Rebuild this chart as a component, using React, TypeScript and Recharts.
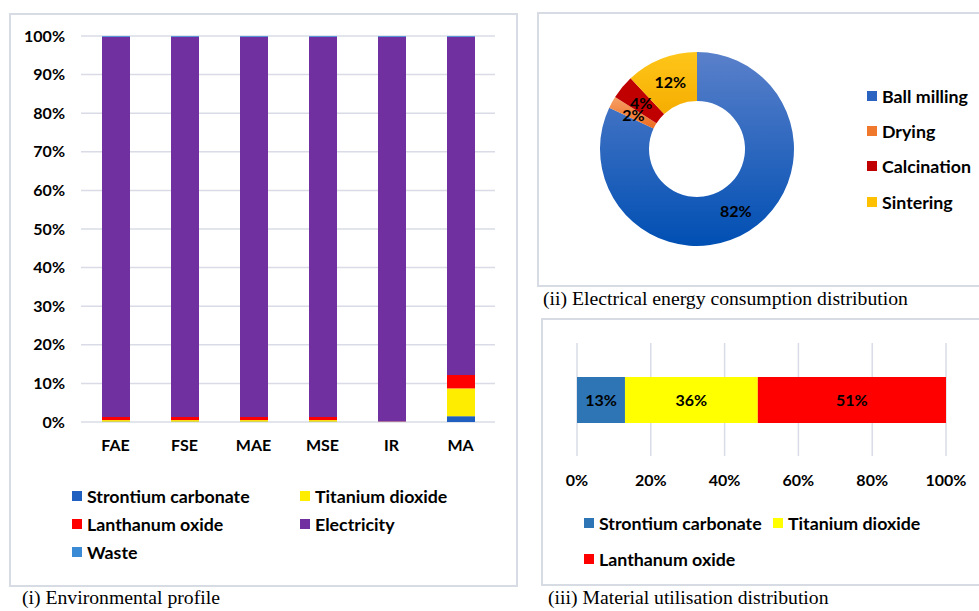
import React from 'react';
import { BarChart, Bar, XAxis, YAxis, CartesianGrid, PieChart, Pie, Cell, LabelList } from 'recharts';

const SANS = 'Lato, "Open Sans", sans-serif';
const SERIF = '"Liberation Serif", "DejaVu Serif", serif';

// (i) Environmental profile — share of impact per route, %
const profileCategories = ['FAE', 'FSE', 'MAE', 'MSE', 'IR', 'MA'];
const strontiumCarbonate = [0.1, 0.1, 0.1, 0.1, 0.0, 1.5];
const titaniumDioxide = [0.4, 0.4, 0.4, 0.4, 0.05, 7.2];
const lanthanumOxide = [0.8, 0.8, 0.8, 0.8, 0.05, 3.5];
const electricity = [98.5, 98.5, 98.5, 98.5, 99.7, 87.6];
const waste = [0.2, 0.2, 0.2, 0.2, 0.2, 0.2];
const percentTicks = [0, 10, 20, 30, 40, 50, 60, 70, 80, 90, 100];

// (ii) Electrical energy consumption distribution, %
const energySteps = ['Ball milling', 'Drying', 'Calcination', 'Sintering'];
const energyShares = [82, 2, 4, 12];

// (iii) Material utilisation distribution, %
const materials = ['Strontium carbonate', 'Titanium dioxide', 'Lanthanum oxide'];
const materialShares = [13, 36, 51];
const utilisationTicks = [0, 20, 40, 60, 80, 100];

const profileSeries = [
  { key: 'sr', name: 'Strontium carbonate', color: '#1f5fbf', values: strontiumCarbonate },
  { key: 'ti', name: 'Titanium dioxide', color: '#ffed00', values: titaniumDioxide },
  { key: 'la', name: 'Lanthanum oxide', color: '#ff0000', values: lanthanumOxide },
  { key: 'el', name: 'Electricity', color: '#7030a0', values: electricity },
  { key: 'wa', name: 'Waste', color: '#3a8ad6', values: waste },
];

const profileData = profileCategories.map((name, i) => {
  const row: Record<string, string | number> = { name };
  profileSeries.forEach((s) => { row[s.key] = s.values[i]; });
  return row;
});

const energyColors = ['url(#gradBall)', 'url(#gradDry)', '#c00000', 'url(#gradSinter)'];
const energyLegendColors = ['#2b63c0', '#f0782d', '#c00000', '#ffc000'];
const energyData = energySteps.map((name, i) => ({ name, value: energyShares[i] }));

const materialKeys = ['sr', 'ti', 'la'];
const materialColors = ['#2e75b6', '#ffff00', '#ff0000'];
const materialRow: Record<string, string | number> = { name: 'share' };
materialKeys.forEach((k, i) => { materialRow[k] = materialShares[i]; });
const materialData = [materialRow];

const GRID = '#d9dce6';
const BORDER = '#d7dbe3';

const tickStyle = { fill: '#000', fontFamily: SANS, fontWeight: 700, fontSize: 16 };

function LegendItem({ x, y, color, label }: { x: number; y: number; color: string; label: string }) {
  return (
    <div style={{ position: 'absolute', left: x, top: y - 12, height: 24, display: 'flex', alignItems: 'center', whiteSpace: 'nowrap' }}>
      <span style={{ display: 'inline-block', width: 10, height: 10, background: color, marginRight: 5 }} />
      <span style={{ fontFamily: SANS, fontWeight: 700, fontSize: 17.8, color: '#000' }}>{label}</span>
    </div>
  );
}

const RAD = Math.PI / 180;
function donutLabel(props: any) {
  const { cx, cy, midAngle, innerRadius, outerRadius, value } = props;
  const r = (innerRadius + outerRadius) / 2;
  const x = cx + r * Math.cos(-midAngle * RAD);
  const y = cy + r * Math.sin(-midAngle * RAD);
  return (
    <text x={x} y={y} textAnchor="middle" dominantBaseline="central" fill="#000"
      style={{ fontFamily: SANS, fontWeight: 700, fontSize: 16 }}>
      {`${value}%`}
    </text>
  );
}

const captionStyle: React.CSSProperties = { position: 'absolute', fontFamily: SERIF, fontSize: 19.7, color: '#000', whiteSpace: 'nowrap' };

export default function App() {
  return (
    <div style={{ position: 'absolute', left: 0, top: 0, width: 979, height: 611, overflow: 'hidden', background: '#fff' }}>
      {/* Panel frames */}
      <div style={{ position: 'absolute', left: 9, top: 13, width: 509, height: 574, border: `2px solid ${BORDER}`, boxSizing: 'border-box' }} />
      <div style={{ position: 'absolute', left: 537, top: 12, width: 460, height: 275, border: `2px solid ${BORDER}`, boxSizing: 'border-box' }} />
      <div style={{ position: 'absolute', left: 541, top: 318, width: 460, height: 268, border: `2px solid ${BORDER}`, boxSizing: 'border-box' }} />

      {/* (i) Environmental profile */}
      <div style={{ position: 'absolute', left: 0, top: 0 }}>
        <BarChart width={530} height={470} data={profileData} margin={{ top: 36, right: 35, bottom: 8, left: 0 }} barSize={28}>
          <CartesianGrid vertical={false} stroke={GRID} strokeWidth={1.5} />
          <XAxis dataKey="name" axisLine={false} tickLine={false} height={40} tickMargin={12} tick={tickStyle} interval={0} />
          <YAxis type="number" domain={[0, 100]} ticks={percentTicks} width={81} axisLine={false} tickLine={false}
            tickMargin={10} tick={tickStyle} tickFormatter={(v: number) => `${v}%`} interval={0} />
          {profileSeries.map((s) => (
            <Bar key={s.key} dataKey={s.key} name={s.name} stackId="p" fill={s.color} isAnimationActive={false} />
          ))}
        </BarChart>
      </div>
      <LegendItem x={72} y={496} color={profileSeries[0].color} label={profileSeries[0].name} />
      <LegendItem x={300} y={496} color={profileSeries[1].color} label={profileSeries[1].name} />
      <LegendItem x={72} y={524} color={profileSeries[2].color} label={profileSeries[2].name} />
      <LegendItem x={300} y={524} color={profileSeries[3].color} label={profileSeries[3].name} />
      <LegendItem x={72} y={552} color={profileSeries[4].color} label={profileSeries[4].name} />
      <div style={{ ...captionStyle, left: 22, top: 586 }}>(i) Environmental profile</div>

      {/* (ii) Electrical energy consumption distribution */}
      <div style={{ position: 'absolute', left: 537, top: 12 }}>
        <PieChart width={320} height={275} margin={{ top: 0, right: 0, bottom: 0, left: 0 }}>
          <defs>
            <linearGradient id="gradBall" x1="0" y1="0" x2="0" y2="1">
              <stop offset="0%" stopColor="#5a80ca" />
              <stop offset="100%" stopColor="#004fb3" />
            </linearGradient>
            <linearGradient id="gradDry" x1="0" y1="0" x2="0" y2="1">
              <stop offset="0%" stopColor="#f6a066" />
              <stop offset="100%" stopColor="#ec6c20" />
            </linearGradient>
            <linearGradient id="gradSinter" x1="0" y1="0" x2="0" y2="1">
              <stop offset="0%" stopColor="#ffc61a" />
              <stop offset="100%" stopColor="#f5ad00" />
            </linearGradient>
          </defs>
          <Pie data={energyData} dataKey="value" nameKey="name" cx={160} cy={137} innerRadius={48} outerRadius={97}
            startAngle={90} endAngle={-270} stroke="none" label={donutLabel} labelLine={false} isAnimationActive={false}>
            {energyData.map((d, i) => (
              <Cell key={d.name} fill={energyColors[i]} />
            ))}
          </Pie>
        </PieChart>
      </div>
      {energySteps.map((name, i) => (
        <LegendItem key={name} x={867} y={[96, 131, 166, 202][i]} color={energyLegendColors[i]} label={name} />
      ))}
      <div style={{ ...captionStyle, left: 543, top: 287 }}>(ii) Electrical energy consumption distribution</div>

      {/* (iii) Material utilisation distribution */}
      <div style={{ position: 'absolute', left: 541, top: 319 }}>
        <BarChart width={438} height={177} data={materialData} layout="vertical" margin={{ top: 24, right: 33, bottom: 0, left: 36 }} barSize={46}>
          <CartesianGrid horizontal={false} stroke={GRID} strokeWidth={1.5} />
          <XAxis type="number" domain={[0, 100]} ticks={utilisationTicks} axisLine={false} tickLine={false} height={40}
            tickMargin={13} tick={tickStyle} tickFormatter={(v: number) => `${v}%`} interval={0} />
          <YAxis type="category" dataKey="name" hide />
          {materialKeys.map((k, i) => (
            <Bar key={k} dataKey={k} name={materials[i]} stackId="m" fill={materialColors[i]} isAnimationActive={false}>
              <LabelList dataKey={k} position="center" formatter={(v: any) => `${v}%`}
                style={{ fill: '#000', fontFamily: SANS, fontWeight: 700, fontSize: 16 }} />
            </Bar>
          ))}
        </BarChart>
      </div>
      <LegendItem x={584} y={523} color={materialColors[0]} label={materials[0]} />
      <LegendItem x={773} y={523} color={materialColors[1]} label={materials[1]} />
      <LegendItem x={584} y={559} color={materialColors[2]} label={materials[2]} />
      <div style={{ ...captionStyle, left: 548, top: 586 }}>(iii) Material utilisation distribution</div>
    </div>
  );
}
